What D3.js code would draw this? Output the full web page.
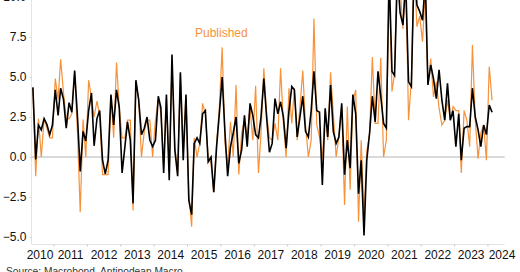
<!DOCTYPE html>
<html>
<head>
<meta charset="utf-8">
<script src="https://cdn.jsdelivr.net/npm/d3@7"></script>
<style>
    body { margin: 0; background: #fff; }
    svg { display: block; font-family: "Liberation Sans", Arial, sans-serif; }
</style>
</head>
<body>
<svg id="chart" width="520" height="272"></svg>
<script>
// Monthly data, May 2010 .. Feb 2024
const firstMonth = new Date(2010, 4, 15);

const published = [
    4.35, -1.2, 2.4, 0.0, 2.4, 1.8, 1.2, 1.2, 4.9, 3.6, 6.1, 4.0, 2.4, 2.4, 2.7, 5.3, 1.5, -3.45, 2.35, 0.0,
    4.8, 3.7, 2.5, 3.5, 2.6, -1.1, -1.1, -1.1, 3.8, 1.2, 5.9, 3.1, 1.2, 1.2, 2.3, 2.3, -3.35, 4.7, 3.6, 0.0,
    1.6, 2.3, 2.3, 0.0, 2.3, 3.6, 2.8, -0.6, 3.8, -1.0, 5.85, 0.65, -1.0, 5.2, 0.45, 3.8, -2.3, -4.35, 1.2, 0.0,
    0.85, 3.35, 2.7, 0.0, -0.4, -2.2, 0.85, 3.1, 6.85, 0.85, -0.6, 2.2, 0.0, 4.5, -1.1, 1.5, 2.3, 1.25, 3.1, 1.05,
    4.45, -1.0, 1.5, 5.55, 2.7, 1.2, 1.05, 2.1, 1.05, 5.55, 2.1, 0.0, 4.3, 2.1, 4.3, 1.05, 3.15, 5.4, 2.0, 0.0,
    1.05, 8.65, 2.0, 1.25, -0.1, 2.8, 1.05, 5.3, 2.7, 0.0, 1.25, 3.15, -3.0, 3.15, -2.05, 3.45, 4.2, -4.05, 1.05, -3.7,
    0.35, 1.5, 6.25, 2.1, 2.1, 6.2, 0.0, 1.05, 11.0, 4.1, 5.2, 12.5, 10.5, 8.0, 11.5, 2.3, 4.8, 12.0, 8.15, 8.8,
    7.2, 10.5, 4.5, 6.15, 3.75, 4.7, 3.05, 2.0, 2.3, 3.55, 2.3, 3.15, 2.9, 2.9, -1.0, 2.9, 2.3, 0.65, 7.0, 2.3,
    -0.1, 1.5, 2.0, -0.2, 5.65, 3.55
];

const latest = [
    4.35, -0.15, 2.0, 1.7, 2.4, 2.05, 1.4, 2.0, 4.2, 2.6, 4.3, 3.6, 1.8, 3.4, 2.8, 5.4, 2.5, -0.9, 1.6, 1.0,
    2.9, 4.0, 0.7, 2.4, 2.9, -0.2, -1.05, -0.2, 3.9, 2.0, 4.2, 3.1, -1.0, 0.65, 2.2, 1.05, -2.9, 4.8, 3.6, 1.4,
    1.8, 2.5, 1.05, 0.65, 1.05, 3.8, 3.1, -1.0, 3.9, -1.45, 6.4, 0.45, -1.2, 5.3, -0.2, 3.9, -2.7, -3.6, 0.85, 1.2,
    0.85, 2.7, 2.9, -0.3, 0.0, -2.2, 0.65, 2.7, 5.0, 1.5, -1.2, 0.65, 1.5, 2.5, -0.4, 0.45, 2.6, 0.65, 3.35, 2.6,
    1.4, 1.2, 2.5, 4.9, 2.5, 0.3, 0.85, 3.65, 2.7, 3.45, 2.5, 0.55, 2.9, 4.4, 4.2, 1.25, 2.5, 3.8, 1.6, 1.25,
    2.9, 5.35, 2.9, 2.8, -1.75, 3.05, 1.25, 4.5, 1.6, 0.85, 1.25, 3.35, -1.1, 1.05, -0.7, 3.9, 2.7, -2.3, -0.2, -4.9,
    -0.2, 1.5, 3.8, 2.2, 5.35, 3.8, 2.1, 1.8, 11.5, 5.35, 5.1, 11.5, 9.0, 8.25, 11.0, 4.7, 4.4, 12.0, 9.5, 9.1,
    8.55, 11.0, 4.5, 5.75, 4.9, 3.65, 5.45, 3.55, 2.3, 4.6, 2.3, 2.9, 0.65, 2.7, -0.2, 1.8, 1.9, 1.9, 4.3, 2.5,
    1.7, 0.65, 2.0, 1.4, 3.25, 2.8
];

const years = [2010, 2011, 2012, 2013, 2014, 2015, 2016, 2017, 2018, 2019, 2020, 2021, 2022, 2023, 2024];
const yTicks = [-5, -2.5, 0, 2.5, 5, 7.5, 10];

const orange = "#f7923a";

const svg = d3.select("#chart");

const x = d3.scaleTime()
    .domain([new Date(2010, 4, 1), new Date(2024, 6, 1)])
    .range([31.6, 504.6]);

const y = d3.scaleLinear()
    .domain([-5, 10])
    .range([237, -3]);

const axisY = 244;

const dates = published.map((d, i) => d3.timeMonth.offset(firstMonth, i));

// y axis
svg.append("line")
    .attr("x1", 31.5).attr("x2", 31.5)
    .attr("y1", 0).attr("y2", axisY)
    .attr("stroke", "#e3e3e3");

const yg = svg.append("g").attr("transform", "translate(31.5,0)")
    .call(d3.axisLeft(y).tickValues(yTicks).tickFormat(d3.format(".1f")).tickSize(2).tickPadding(3));
yg.select(".domain").remove();
yg.selectAll("line").attr("stroke", "#cfcfcf");
yg.selectAll("text").attr("font-size", 12).attr("fill", "#111")
    .attr("font-family", "Liberation Sans, Arial, sans-serif");

// x axis
svg.append("line")
    .attr("x1", x.range()[0]).attr("x2", x.range()[1])
    .attr("y1", axisY + 0.5).attr("y2", axisY + 0.5)
    .attr("stroke", "#e3e3e3");

svg.append("g").selectAll("line")
    .data(years.slice(1))
    .join("line")
    .attr("x1", d => x(new Date(d, 0, 1)))
    .attr("x2", d => x(new Date(d, 0, 1)))
    .attr("y1", axisY + 0.5).attr("y2", axisY + 2.5)
    .attr("stroke", "#c8c8c8");

svg.append("g").selectAll("text")
    .data(years)
    .join("text")
    .attr("x", d => Math.max(40, Math.min(502, x(new Date(d, 6, 1)))))
    .attr("y", 258.5)
    .attr("text-anchor", "middle")
    .attr("font-size", 12)
    .attr("fill", "#111")
    .text(d => d);

// zero line
svg.append("line")
    .attr("x1", x.range()[0]).attr("x2", x.range()[1])
    .attr("y1", y(0)).attr("y2", y(0))
    .attr("stroke", "#cccccc")
    .attr("stroke-width", 1.5);

// series
const line = d3.line()
    .x((d, i) => x(dates[i]))
    .y(d => y(d));

svg.append("path")
    .datum(published)
    .attr("fill", "none")
    .attr("stroke", orange)
    .attr("stroke-width", 1.2)
    .attr("stroke-linejoin", "miter")
    .attr("d", line);

svg.append("path")
    .datum(latest)
    .attr("fill", "none")
    .attr("stroke", "#000")
    .attr("stroke-width", 1.6)
    .attr("stroke-linejoin", "miter")
    .attr("d", line);

// labels
svg.append("text")
    .attr("x", 195).attr("y", 36.5)
    .attr("font-size", 12)
    .attr("fill", orange)
    .text("Published");

svg.append("text")
    .attr("x", 6).attr("y", 275)
    .attr("font-size", 10.2)
    .attr("fill", "#333")
    .text("Source: Macrobond, Antipodean Macro");
</script>
</body>
</html>
